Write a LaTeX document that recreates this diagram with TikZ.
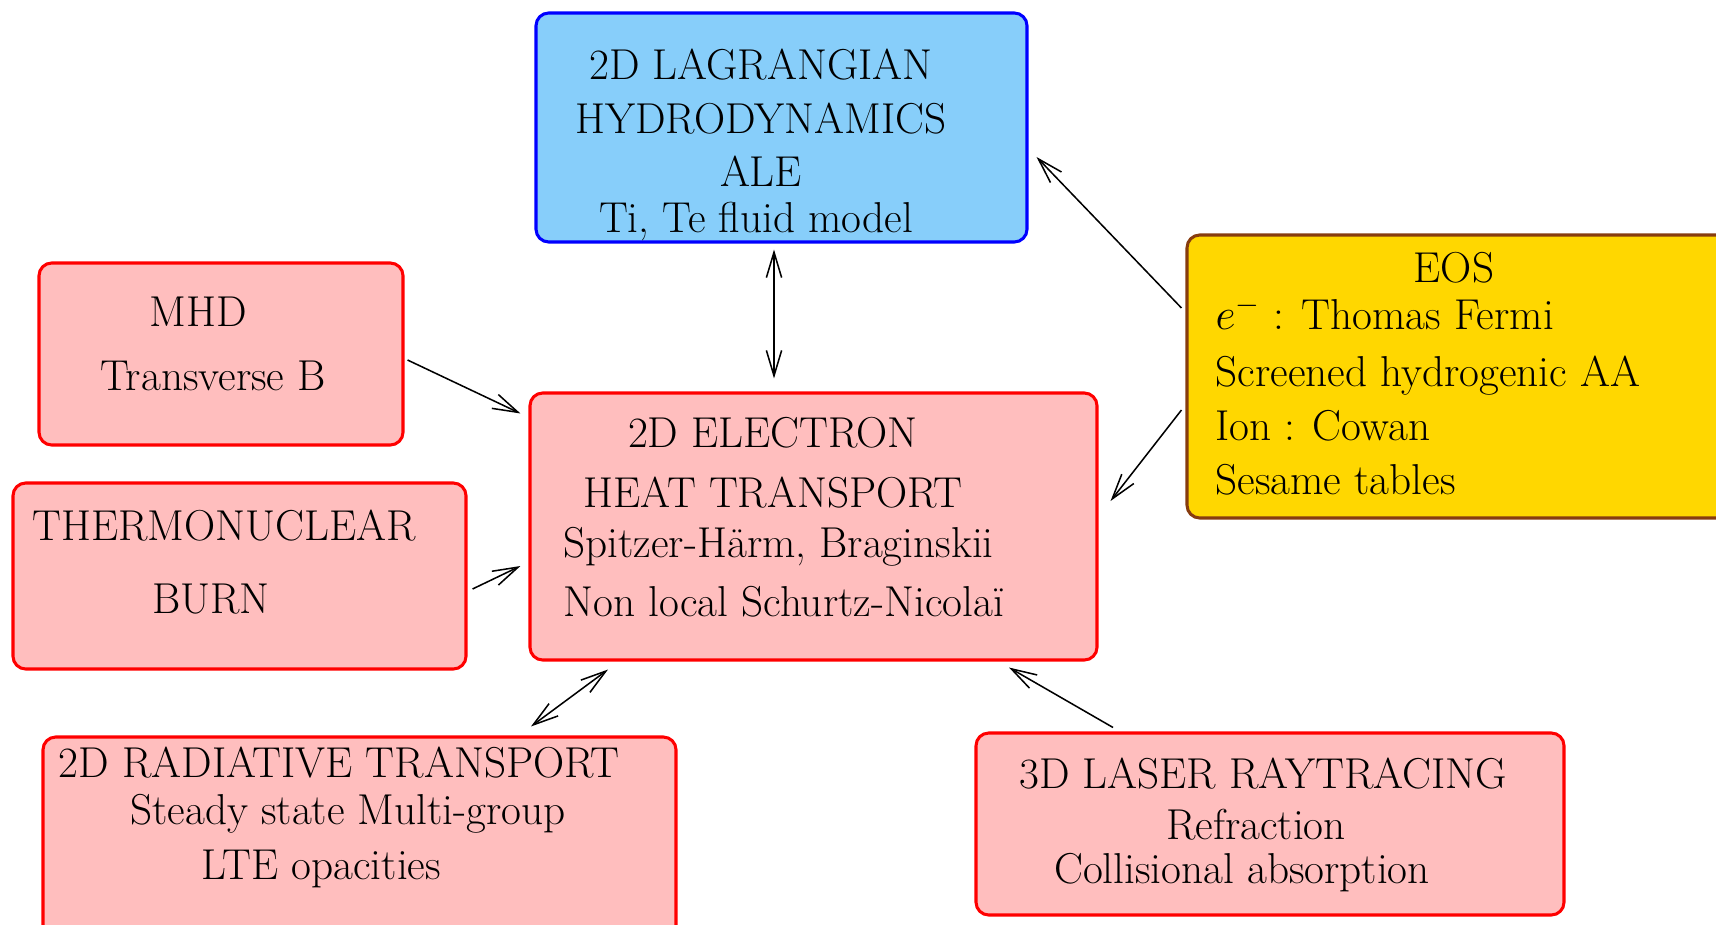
\documentclass[tikz,border=0pt]{standalone}
\usepackage{amsmath}
\usepackage{tikz}
\usetikzlibrary{arrows.meta}
\newlength{\pxu}
\setlength{\pxu}{0.01383cm}
\definecolor{boxpink}{RGB}{255,190,190}
\definecolor{boxsky}{RGB}{135,206,250}
\definecolor{boxgold}{RGB}{255,215,0}
\definecolor{eosbrown}{RGB}{135,60,15}

\begin{document}
\begin{tikzpicture}[
	  x=\pxu, y=-\pxu,
	  every node/.style={font=\fontsize{17}{20}\selectfont},
	  redbox/.style={draw=red, fill=boxpink, line width=1.2pt, rounded corners=5pt, inner sep=0pt},
	  bluebox/.style={redbox, draw=blue, fill=boxsky},
	  eosbox/.style={redbox, draw=eosbrown, fill=boxgold},
	  txt/.style={anchor=base, inner sep=0pt},
	  ltxt/.style={anchor=base west, inner sep=0pt},
	  arr/.style={-{Straight Barb[length=10pt,width=6pt]}, line width=0.6pt},
	  darr/.style={{Straight Barb[length=10pt,width=6pt]}-{Straight Barb[length=10pt,width=6pt]}, line width=0.6pt},
	]
	\useasboundingbox (0,0) rectangle (1716,925);

	% boxes
	\node [bluebox, minimum width=491\pxu, minimum height=229\pxu] (hydro) at (781.5,127.5) {};
	\node [redbox, minimum width=567\pxu, minimum height=267\pxu] (heat) at (813.5,526.5) {};
	\node [redbox, minimum width=364\pxu, minimum height=182\pxu] (mhd) at (221,354) {};
	\node [redbox, minimum width=453\pxu, minimum height=186\pxu] (burn) at (239.5,576) {};
	\node [redbox, minimum width=633\pxu, minimum height=210\pxu] (rad) at (359.5,842) {};
	\node [redbox, minimum width=588\pxu, minimum height=182\pxu] (laser) at (1270,824) {};
	\node [eosbox, minimum width=543\pxu, minimum height=283\pxu] (eos) at (1458.5,376.5) {};

	% texts
	\node [txt] (hydroA) at (761,80) {2D LAGRANGIAN};
	\node [txt] (hydroB) at (761,134) {HYDRODYNAMICS};
	\node [txt] (hydroC) at (761,186) {ALE};
	\node [txt] (hydroD) at (756,232) {Ti, Te fluid model};

	\node [txt] (heatA) at (773,447) {2D ELECTRON};
	\node [txt] (heatB) at (773,507) {HEAT TRANSPORT};
	\node [ltxt] (heatC) at (563,557) {Spitzer-Härm, Braginskii};
	\node [ltxt] (heatD) at (563,616) {Non local Schurtz-Nicolaï};

	\node [txt] (mhdA) at (198,326) {MHD};
	\node [txt] (mhdB) at (213,390) {Transverse B};

	\node [txt] (burnA) at (224,540) {THERMONUCLEAR};
	\node [txt] (burnB) at (211,613) {BURN};

	\node [txt] (radA) at (339,777) {2D RADIATIVE TRANSPORT};
	\node [txt] (radB) at (348,824) {Steady state Multi-group};
	\node [txt] (radC) at (321,879) {LTE opacities};

	\node [txt] (laserA) at (1263,788) {3D LASER RAYTRACING};
	\node [txt] (laserB) at (1256,839) {Refraction};
	\node [txt] (laserC) at (1242,883) {Collisional absorption};

	\node [txt] (eosA) at (1454,282) {EOS};
	\node [ltxt] (eosB) at (1215,329) {$e^-$ : Thomas Fermi};
	\node [ltxt] (eosC) at (1215,386) {Screened hydrogenic AA};
	\node [ltxt] (eosD) at (1215,440) {Ion : Cowan};
	\node [ltxt] (eosE) at (1215,494) {Sesame tables};

	% couplings
	\draw [arr] ([shift={(3,6)}]mhd.east) -- ([shift={(-8,22)}]heat.north west);
	\draw [arr] ([shift={(5,13)}]burn.east) -- ([shift={(-8,39.5)}]heat.west);
	\draw [darr] ([shift={(-7.5,6)}]hydro.south) -- ([shift={(-39.5,-13)}]heat.north);
	\draw [arr] ([shift={(-4,-68.5)}]eos.west) -- ([shift={(8,29.5)}]hydro.east);
	\draw [arr] ([shift={(-4,33.5)}]eos.west) -- ([shift={(12,-25.5)}]heat.east);
	\draw [arr] ([shift={(-157,-4)}]laser.north) -- ([shift={(195.5,6)}]heat.south);
	\draw [darr] ([shift={(171.5,-9)}]rad.north) -- ([shift={(-205.5,8)}]heat.south);
	\end{tikzpicture}
\end{document}
